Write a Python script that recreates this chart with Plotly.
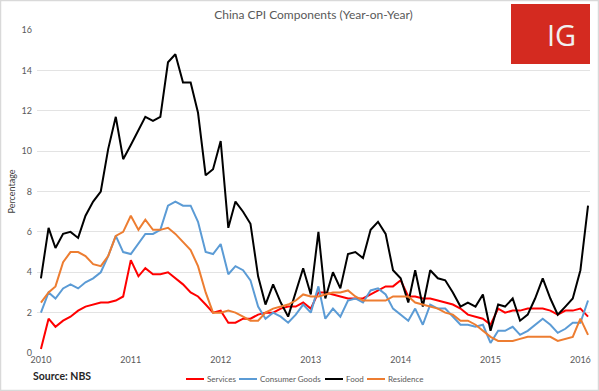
import plotly.graph_objects as go

# Monthly observations Jan 2010 .. Feb 2016
months = [f"{y}-{m:02d}-01" for y in range(2010, 2017) for m in range(1, 13)][:74]

services = [0.2, 1.7, 1.3, 1.6, 1.8, 2.1, 2.3, 2.4, 2.5, 2.5, 2.6, 2.8,
            4.6, 3.8, 4.2, 3.9, 3.9, 4.0, 3.7, 3.4, 3.0, 2.8, 2.4, 2.0,
            2.1, 1.5, 1.5, 1.7, 1.7, 1.9, 2.0, 2.0, 2.2, 2.3, 2.3, 2.5,
            2.2, 3.0, 3.0, 2.9, 2.8, 2.7, 2.7, 2.7, 2.9, 3.1, 3.3, 3.3,
            3.6, 2.8, 2.8, 2.7, 2.7, 2.6, 2.5, 2.4, 2.2, 1.9, 1.8, 1.7,
            1.4, 2.2, 2.0, 2.1, 2.1, 2.2, 2.2, 2.2, 2.1, 1.9, 2.1, 2.1,
            2.2, 1.8]

consumer_goods = [2.0, 3.0, 2.7, 3.2, 3.4, 3.2, 3.5, 3.7, 4.0, 4.8, 5.8, 5.0,
                  4.9, 5.4, 5.9, 5.9, 6.1, 7.3, 7.5, 7.3, 7.3, 6.5, 5.0, 4.9,
                  5.4, 3.9, 4.3, 4.1, 3.6, 2.3, 1.7, 2.0, 1.8, 1.5, 1.9, 2.4,
                  2.0, 3.3, 1.7, 2.2, 1.8, 2.6, 2.7, 2.5, 3.1, 3.2, 2.9, 2.2,
                  1.9, 1.6, 2.2, 1.4, 2.4, 2.2, 2.2, 1.8, 1.4, 1.4, 1.3, 1.4,
                  0.5, 1.1, 1.1, 1.3, 0.9, 1.1, 1.4, 1.7, 1.4, 1.0, 1.2, 1.5,
                  1.5, 2.6]

food = [3.7, 6.2, 5.2, 5.9, 6.0, 5.7, 6.8, 7.5, 8.0, 10.1, 11.7, 9.6,
        10.3, 11.0, 11.7, 11.5, 11.7, 14.4, 14.8, 13.4, 13.4, 11.9, 8.8, 9.1,
        10.5, 6.2, 7.5, 7.0, 6.4, 3.8, 2.4, 3.4, 2.5, 1.8, 3.0, 4.2,
        2.9, 6.0, 2.7, 4.0, 3.2, 4.9, 5.0, 4.7, 6.1, 6.5, 5.9, 4.1,
        3.7, 2.5, 4.1, 2.3, 4.1, 3.7, 3.6, 3.0, 2.3, 2.5, 2.3, 2.9,
        1.1, 2.4, 2.3, 2.7, 1.6, 1.9, 2.7, 3.7, 2.7, 1.9, 2.3, 2.7,
        4.1, 7.3]

residence = [2.5, 3.0, 3.3, 4.5, 5.0, 5.0, 4.8, 4.4, 4.3, 4.8, 5.8, 6.0,
             6.8, 6.1, 6.6, 6.1, 6.1, 6.2, 5.9, 5.5, 5.1, 4.3, 3.0, 2.0,
             2.0, 2.1, 2.0, 1.8, 1.6, 1.6, 2.0, 2.2, 2.3, 2.4, 2.6, 2.9,
             2.8, 2.8, 2.9, 3.0, 3.0, 3.1, 2.8, 2.6, 2.6, 2.6, 2.6, 2.8,
             2.8, 2.8, 2.5, 2.4, 2.3, 2.2, 2.0, 1.9, 1.6, 1.6, 1.4, 1.1,
             0.8, 0.6, 0.6, 0.6, 0.7, 0.8, 0.8, 0.8, 0.8, 0.6, 0.7, 0.8,
             1.7, 0.9]

year_ticks = ["2010-01-01", "2011-01-01", "2012-01-01", "2013-01-01",
              "2014-01-01", "2015-01-01", "2016-01-01"]
year_labels = ["2010", "2011", "2012", "2013", "2014", "2015", "2016"]
y_ticks = [0, 2, 4, 6, 8, 10, 12, 14, 16]

series = [("Services", services, "#ff0000"),
          ("Consumer Goods", consumer_goods, "#5b9bd5"),
          ("Food", food, "#000000"),
          ("Residence", residence, "#ed7d31")]

FONT = "Lato"
fig = go.Figure()
for name, vals, col in series:
    fig.add_trace(go.Scatter(x=months, y=vals, name=name, mode="lines",
                             line=dict(color=col, width=2), showlegend=False))

# plot area geometry in px (for paper-coordinate decorations)
L, R, T, B = 37, 9, 30, 38
W, H = 599 - L - R, 391 - T - B

def px_x(x):
    return (x - L) / W

def px_y(y):
    return (391 - B - y) / H

fig.update_layout(
    width=599, height=391,
    margin=dict(l=L, r=R, t=T, b=B, autoexpand=False),
    paper_bgcolor="white", plot_bgcolor="white",
    font=dict(family=FONT, size=9, color="#595959"),
    title=dict(text="China CPI Components (Year-on-Year)",
               x=0.5, xref="paper", xanchor="center",
               y=1 - 15 / 391, yanchor="middle",
               font=dict(family=FONT, size=12, color="#595959")),
    showlegend=False,
    xaxis=dict(type="date", range=["2009-12-16", "2016-02-09"],
               tickmode="array", tickvals=year_ticks, ticktext=year_labels,
               showgrid=False, zeroline=False, showline=False,
               automargin=False,
               ticks="", tickfont=dict(size=9, color="#595959")),
    yaxis=dict(range=[0, 16], tickmode="array", tickvals=y_ticks,
               showgrid=True, gridcolor="#e3e3e3", gridwidth=1,
               zeroline=False, showline=False, ticks="",
               automargin=False, ticklabelstandoff=4,
               tickfont=dict(size=9, color="#595959"),
               title=dict(text="Percentage", standoff=4,
                          font=dict(size=9, color="#404040"))),
)

# legend (drawn beneath the chart like the original)
legend_x = [186, 239, 325, 367]
for (name, _, col), lx in zip(series, legend_x):
    fig.add_shape(type="line", xref="paper", yref="paper",
                  x0=px_x(lx), x1=px_x(lx + 18), y0=px_y(379), y1=px_y(379),
                  line=dict(color=col, width=2))
    fig.add_annotation(text=name, xref="paper", yref="paper",
                       x=px_x(lx + 19), y=px_y(379), xanchor="left",
                       yanchor="middle", showarrow=False,
                       font=dict(family=FONT, size=8, color="#595959"))

# outer frame
fig.add_shape(type="rect", xref="paper", yref="paper",
              x0=px_x(0.5), x1=px_x(598.5), y0=px_y(390.5), y1=px_y(0.5),
              line=dict(color="#d9d9d9", width=1.5), layer="above")

# IG logo
fig.add_shape(type="rect", xref="paper", yref="paper",
              x0=px_x(511), x1=px_x(590), y0=px_y(64), y1=px_y(4),
              fillcolor="#d42a20", line=dict(width=0), layer="above")
fig.add_annotation(text="IG", xref="paper", yref="paper",
                   x=px_x(561), y=px_y(35), xanchor="center", yanchor="middle",
                   showarrow=False,
                   font=dict(family="Open Sans", size=29, color="#f0f0f0"))

# source note
fig.add_annotation(text="<b>Source: NBS</b>", xref="paper", yref="paper",
                   x=px_x(31), y=px_y(376), xanchor="left", yanchor="middle",
                   showarrow=False,
                   font=dict(family=FONT, size=10.5, color="#262626"))

fig.write_html("out.html", config={"displayModeBar": False},
               post_script="document.body.style.margin='0';"
                           "document.body.style.overflow='hidden';")
